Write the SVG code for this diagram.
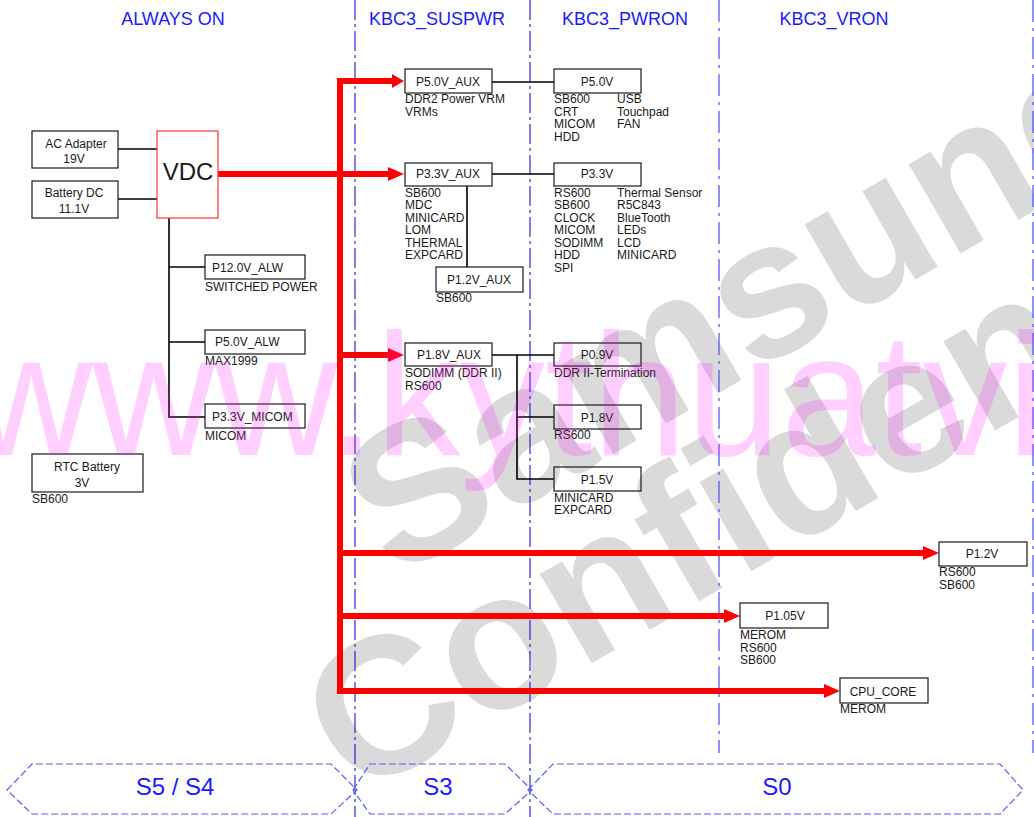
<svg xmlns="http://www.w3.org/2000/svg" width="1034" height="817" viewBox="0 0 1034 817">
<defs>
<style>
.hdr{font-family:"Liberation Sans",Arial,sans-serif;font-size:18px;fill:#1a1aff;text-anchor:middle}
.st{font-family:"Liberation Sans",Arial,sans-serif;font-size:24px;fill:#1a1aff;text-anchor:middle}
.box{fill:none;stroke:#1a1a1a;stroke-width:1.2}
.bt{font-family:"Liberation Sans",Arial,sans-serif;font-size:12px;fill:#1a1a1a;text-anchor:middle}
.lb{font-family:"Liberation Sans",Arial,sans-serif;font-size:12px;fill:#1a1a1a}
.blk{fill:none;stroke:#000;stroke-width:1.6}
.red{fill:none;stroke:#ff0000;stroke-width:6}
.lane1{stroke:#0000cc;stroke-width:1;stroke-dasharray:20 4 3 4}
.lane2{stroke:#4a4aff;stroke-width:1.2;stroke-dasharray:22 6 3 6}
.hex{fill:none;stroke:#5a5aff;stroke-width:1.2;stroke-dasharray:7 3}
.wmg{font-family:"Liberation Sans",Arial,sans-serif;font-weight:bold;font-size:195px;fill:#dadada}
.wmp{font-family:"Liberation Sans",Arial,sans-serif;font-size:175px;fill:#ff00ff;fill-opacity:0.19}
</style>
<marker id="ah" viewBox="0 0 16 14" refX="4" refY="7" markerWidth="16" markerHeight="14" markerUnits="userSpaceOnUse" orient="auto">
<path d="M0,0 L16,7 L0,14 z" fill="#ff0000"/>
</marker>
</defs>
<rect x="0" y="0" width="1034" height="817" fill="#ffffff"/>

<g id="watermark-gray">
<text class="wmg" transform="translate(395,580) rotate(-30)">Samsung</text>
<text class="wmg" transform="translate(355,800) rotate(-30)">Confidential</text>
</g>

<g id="lanes">
<line class="lane1" x1="355" y1="0" x2="355" y2="817"/>
<line class="lane1" x1="530" y1="0" x2="530" y2="817"/>
<line class="lane2" x1="719" y1="0" x2="719" y2="753"/>
<line class="lane2" x1="1033" y1="0" x2="1033" y2="753"/>
<text class="hdr" x="173" y="25">ALWAYS ON</text>
<text class="hdr" x="437" y="25">KBC3_SUSPWR</text>
<text class="hdr" x="625" y="25">KBC3_PWRON</text>
<text class="hdr" x="834" y="25">KBC3_VRON</text>
<polygon class="hex" points="7,790 32,764 331,764 357,790 331,814 32,814"/>
<polygon class="hex" points="353,790 370,764 505,764 532,790 505,814 370,814"/>
<polygon class="hex" points="528,790 553,764 1000,764 1023,790 1000,814 553,814"/>
<text class="st" x="175" y="795">S5 / S4</text>
<text class="st" x="438" y="795">S3</text>
<text class="st" x="777" y="795">S0</text>
</g>

<g id="connectors">
<line class="blk" x1="118" y1="149" x2="157" y2="149"/>
<line class="blk" x1="118" y1="199" x2="157" y2="199"/>
<polyline class="blk" points="169,218 169,417 205,417"/>
<line class="blk" x1="169" y1="267" x2="205" y2="267"/>
<line class="blk" x1="169" y1="342" x2="205" y2="342"/>
<line class="blk" x1="492" y1="82" x2="554" y2="82"/>
<line class="blk" x1="492" y1="174" x2="554" y2="174"/>
<line class="blk" x1="467" y1="186" x2="467" y2="267"/>
<line class="blk" x1="492" y1="355" x2="554" y2="355"/>
<polyline class="blk" points="517,355 517,479 554,479"/>
<line class="blk" x1="517" y1="417" x2="554" y2="417"/>
<line class="red" x1="218" y1="174" x2="392" y2="174" marker-end="url(#ah)"/>
<polyline class="red" points="392,81 340,81 340,691 828,691" marker-end="url(#ah)"/>
<line class="red" x1="340" y1="355" x2="392" y2="355" marker-end="url(#ah)"/>
<line class="red" x1="340" y1="553" x2="927" y2="553" marker-end="url(#ah)"/>
<line class="red" x1="340" y1="616" x2="728" y2="616" marker-end="url(#ah)"/>
<path d="M392,74 L404,81 L392,88 z" fill="#ff0000"/>
</g>

<g id="ac-adapter">
<rect class="box" x="32" y="131" width="86" height="37"/>
<text class="bt" x="76" y="148">AC Adapter</text>
<text class="bt" x="74" y="163">19V</text>
</g>
<g id="battery-dc">
<rect class="box" x="32" y="181" width="86" height="37"/>
<text class="bt" x="74" y="197">Battery DC</text>
<text class="bt" x="74" y="213">11.1V</text>
</g>
<g id="vdc">
<rect x="157" y="131" width="61" height="87" fill="none" stroke="#ff3333" stroke-width="1.2"/>
<text x="188" y="180" font-family="Liberation Sans, Arial, sans-serif" font-size="24" fill="#1a1a1a" text-anchor="middle">VDC</text>
</g>
<g id="p12v-alw">
<rect class="box" x="205" y="255" width="100" height="24"/>
<text class="lb" x="212" y="272">P12.0V_ALW</text>
<text class="lb" x="205" y="291">SWITCHED POWER</text>
</g>
<g id="p5v-alw">
<rect class="box" x="205" y="330" width="100" height="24"/>
<text class="lb" x="215" y="346">P5.0V_ALW</text>
<text class="lb" x="205" y="365">MAX1999</text>
</g>
<g id="p33v-micom">
<rect class="box" x="205" y="404" width="100" height="24"/>
<text class="lb" x="212" y="421">P3.3V_MICOM</text>
<text class="lb" x="205" y="440">MICOM</text>
</g>
<g id="rtc-battery">
<rect class="box" x="32" y="454" width="111" height="38"/>
<text class="bt" x="87" y="471">RTC Battery</text>
<text class="bt" x="82" y="487">3V</text>
<text class="lb" x="32" y="503">SB600</text>
</g>
<g id="p5v-aux">
<rect class="box" x="405" y="69" width="87" height="24"/>
<text class="bt" x="448" y="86">P5.0V_AUX</text>
<text class="lb" x="405" y="103">DDR2 Power VRM</text>
<text class="lb" x="405" y="116">VRMs</text>
</g>
<g id="p5v">
<rect class="box" x="554" y="69" width="87" height="24"/>
<text class="bt" x="597" y="86">P5.0V</text>
<text class="lb" x="554" y="103">SB600</text>
<text class="lb" x="554" y="116">CRT</text>
<text class="lb" x="554" y="128">MICOM</text>
<text class="lb" x="554" y="141">HDD</text>
<text class="lb" x="617" y="103">USB</text>
<text class="lb" x="617" y="116">Touchpad</text>
<text class="lb" x="617" y="128">FAN</text>
</g>
<g id="p33v-aux">
<rect class="box" x="405" y="163" width="87" height="23"/>
<text class="bt" x="448" y="178">P3.3V_AUX</text>
<text class="lb" x="405" y="197">SB600</text>
<text class="lb" x="405" y="209">MDC</text>
<text class="lb" x="405" y="222">MINICARD</text>
<text class="lb" x="405" y="234">LOM</text>
<text class="lb" x="405" y="247">THERMAL</text>
<text class="lb" x="405" y="259">EXPCARD</text>
</g>
<g id="p12v-aux">
<rect class="box" x="436" y="267" width="87" height="25"/>
<text class="bt" x="479" y="284">P1.2V_AUX</text>
<text class="lb" x="436" y="302">SB600</text>
</g>
<g id="p33v">
<rect class="box" x="554" y="163" width="87" height="23"/>
<text class="bt" x="597" y="178">P3.3V</text>
<text class="lb" x="554" y="197">RS600</text>
<text class="lb" x="554" y="209">SB600</text>
<text class="lb" x="554" y="222">CLOCK</text>
<text class="lb" x="554" y="234">MICOM</text>
<text class="lb" x="554" y="247">SODIMM</text>
<text class="lb" x="554" y="259">HDD</text>
<text class="lb" x="554" y="272">SPI</text>
<text class="lb" x="617" y="197">Thermal Sensor</text>
<text class="lb" x="617" y="209">R5C843</text>
<text class="lb" x="617" y="222">BlueTooth</text>
<text class="lb" x="617" y="234">LEDs</text>
<text class="lb" x="617" y="247">LCD</text>
<text class="lb" x="617" y="259">MINICARD</text>
</g>
<g id="p18v-aux">
<rect class="box" x="405" y="343" width="87" height="23"/>
<text class="bt" x="449" y="359">P1.8V_AUX</text>
<text class="lb" x="405" y="377">SODIMM (DDR II)</text>
<text class="lb" x="405" y="390">RS600</text>
</g>
<g id="p09v">
<rect class="box" x="554" y="343" width="87" height="23"/>
<text class="bt" x="597" y="359">P0.9V</text>
<text class="lb" x="554" y="377">DDR II-Termination</text>
</g>
<g id="p18v">
<rect class="box" x="554" y="405" width="87" height="24"/>
<text class="bt" x="597" y="422">P1.8V</text>
<text class="lb" x="554" y="439">RS600</text>
</g>
<g id="p15v">
<rect class="box" x="554" y="467" width="87" height="24"/>
<text class="bt" x="597" y="484">P1.5V</text>
<text class="lb" x="554" y="502">MINICARD</text>
<text class="lb" x="554" y="514">EXPCARD</text>
</g>
<g id="p12v">
<rect class="box" x="939" y="542" width="88" height="24"/>
<text class="bt" x="982" y="558">P1.2V</text>
<text class="lb" x="939" y="576">RS600</text>
<text class="lb" x="939" y="589">SB600</text>
</g>
<g id="p105v">
<rect class="box" x="740" y="603" width="88" height="25"/>
<text class="bt" x="785" y="620">P1.05V</text>
<text class="lb" x="740" y="639">MEROM</text>
<text class="lb" x="740" y="652">RS600</text>
<text class="lb" x="740" y="664">SB600</text>
</g>
<g id="cpu-core">
<rect class="box" x="840" y="678" width="88" height="25"/>
<text class="bt" x="883" y="696">CPU_CORE</text>
<text class="lb" x="840" y="713">MEROM</text>
</g>

<g id="watermark-pink">
<text class="wmp" x="-30" y="455" textLength="1075" lengthAdjust="spacingAndGlyphs">www.kythuatvi</text>
</g>
</svg>
